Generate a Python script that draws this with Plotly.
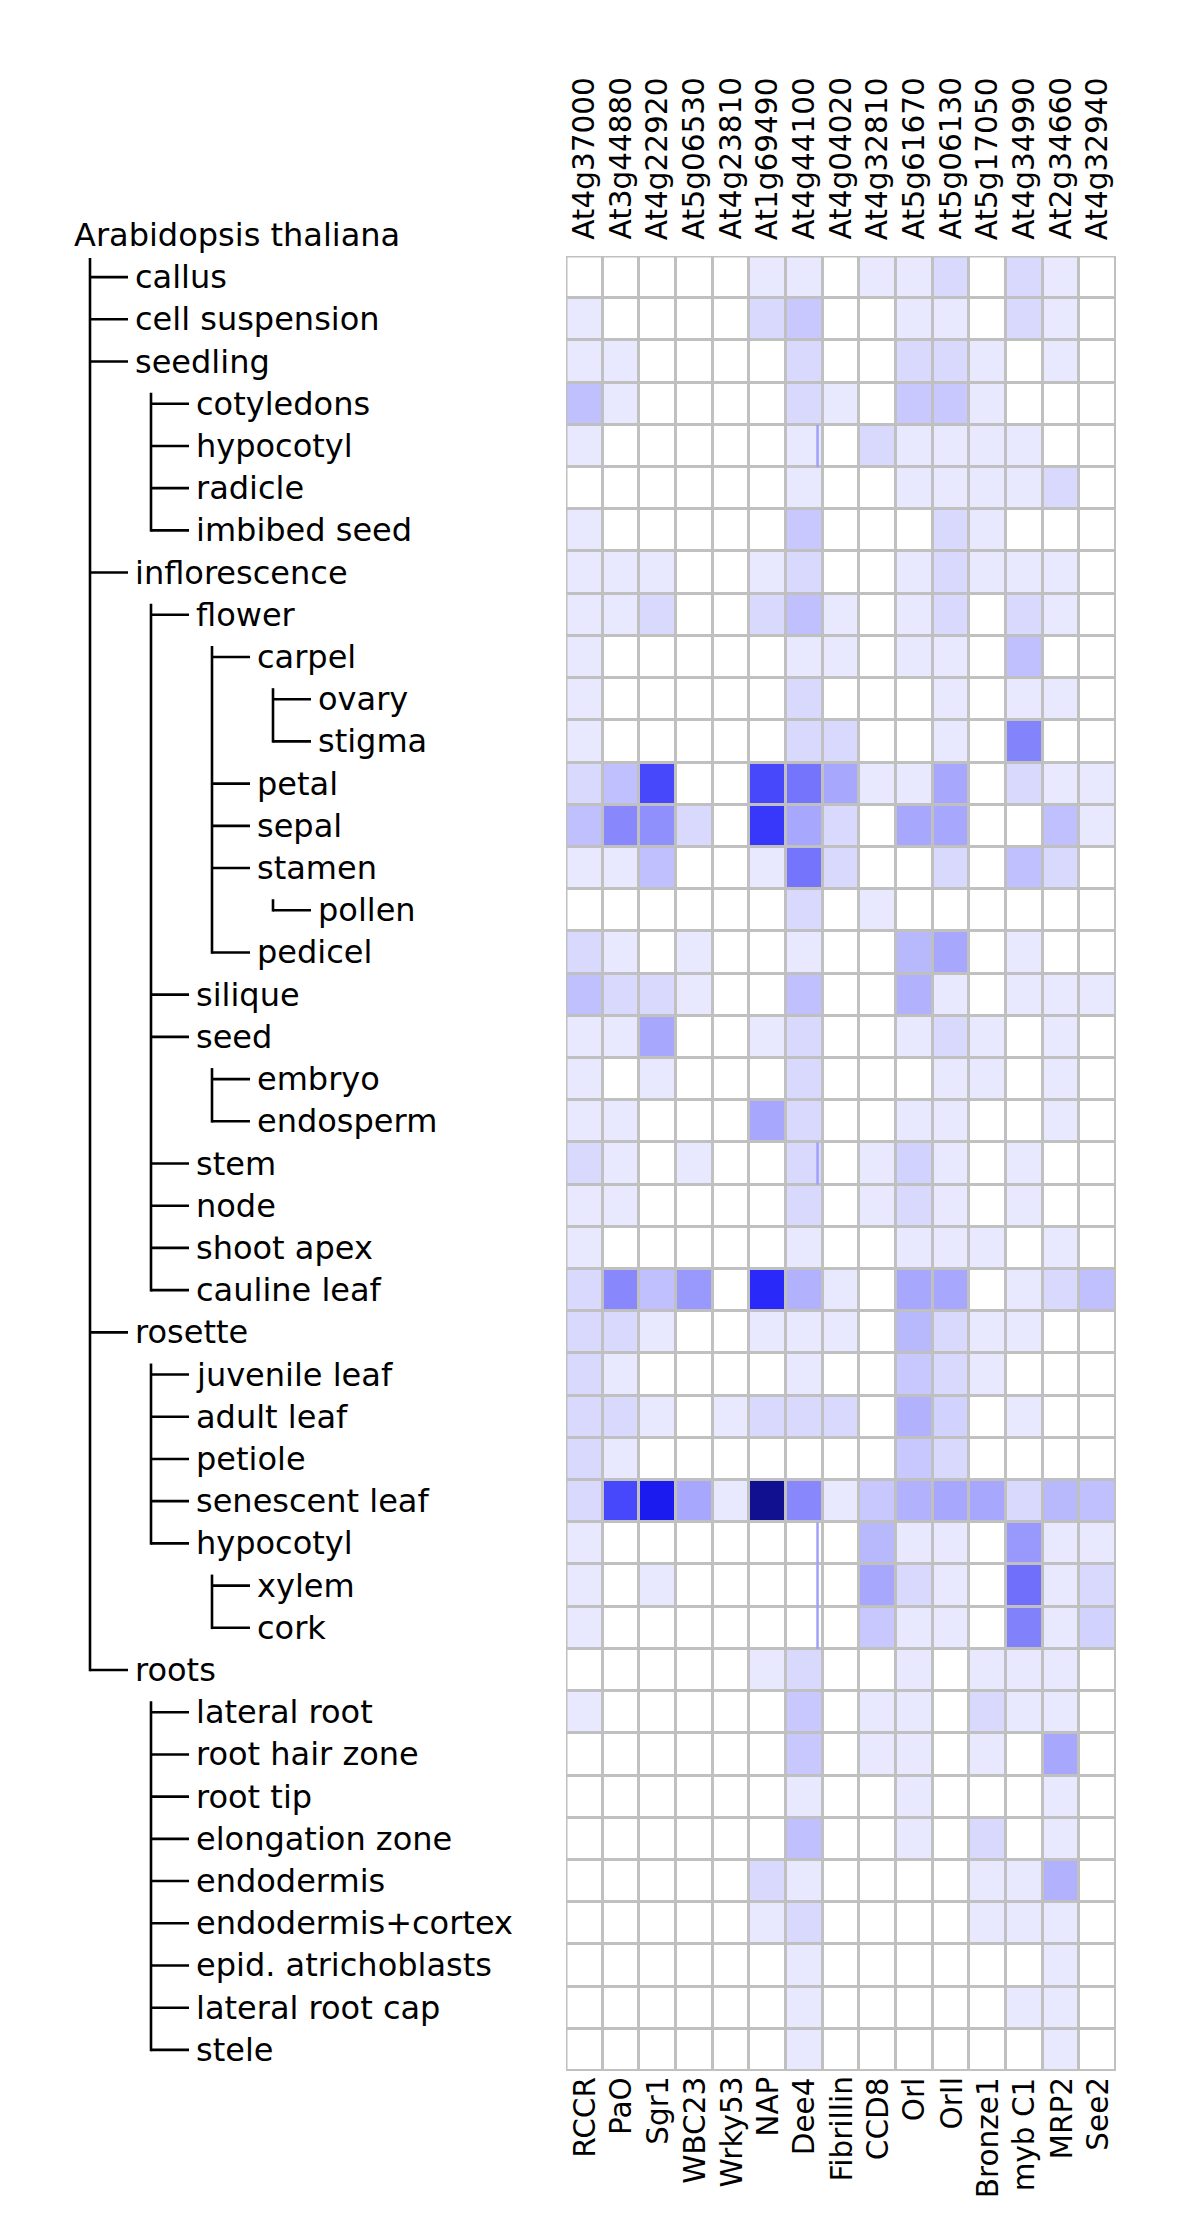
import plotly.graph_objects as go

# ---------------- data ----------------
genes_top = ["At4g37000", "At3g44880", "At4g22920", "At5g06530", "At4g23810",
             "At1g69490", "At4g44100", "At4g04020", "At4g32810", "At5g61670",
             "At5g06130", "At5g17050", "At4g34990", "At2g34660", "At4g32940"]
genes_bottom = ["RCCR", "PaO", "Sgr1", "WBC23", "Wrky53", "NAP", "Dee4", "Fibrillin",
                "CCD8", "Orl", "OrII", "Bronze1", "myb C1", "MRP2", "See2"]

root_label = "Arabidopsis thaliana"
tissues = ["callus", "cell suspension", "seedling", "cotyledons", "hypocotyl", "radicle",
           "imbibed seed", "inflorescence", "flower", "carpel", "ovary", "stigma", "petal",
           "sepal", "stamen", "pollen", "pedicel", "silique", "seed", "embryo", "endosperm",
           "stem", "node", "shoot apex", "cauline leaf", "rosette", "juvenile leaf",
           "adult leaf", "petiole", "senescent leaf", "hypocotyl", "xylem", "cork", "roots",
           "lateral root", "root hair zone", "root tip", "elongation zone", "endodermis",
           "endodermis+cortex", "epid. atrichoblasts", "lateral root cap", "stele"]
depths = [1, 1, 1, 2, 2, 2, 2, 1, 2, 3, 4, 4, 3, 3, 3, 4, 3, 2, 2, 3, 3, 2, 2, 2, 2,
          1, 2, 2, 2, 2, 2, 3, 3, 1, 2, 2, 2, 2, 2, 2, 2, 2, 2]

# relative expression (0 = none, 100 = max), one list per tissue, columns follow genes
expr = [
    [0, 0, 0, 0, 0, 9, 9, 0, 9, 9, 15, 0, 15, 9, 0],        # callus
    [9, 0, 0, 0, 0, 15, 22, 0, 0, 9, 9, 0, 15, 9, 0],       # cell suspension
    [9, 9, 0, 0, 0, 0, 15, 0, 0, 15, 15, 9, 0, 9, 0],       # seedling
    [25, 9, 0, 0, 0, 0, 15, 9, 0, 22, 22, 9, 0, 0, 0],      # cotyledons
    [9, 0, 0, 0, 0, 0, 9, 0, 15, 9, 9, 9, 9, 0, 0],         # hypocotyl
    [0, 0, 0, 0, 0, 0, 9, 0, 0, 9, 9, 9, 9, 15, 0],         # radicle
    [9, 0, 0, 0, 0, 0, 22, 0, 0, 0, 15, 9, 0, 0, 0],        # imbibed seed
    [9, 9, 9, 0, 0, 9, 15, 0, 0, 9, 15, 9, 9, 9, 0],        # inflorescence
    [9, 9, 15, 0, 0, 15, 25, 9, 0, 9, 15, 0, 15, 9, 0],     # flower
    [9, 0, 0, 0, 0, 0, 9, 9, 0, 9, 9, 0, 25, 0, 0],         # carpel
    [9, 0, 0, 0, 0, 0, 15, 0, 0, 0, 9, 0, 9, 9, 0],         # ovary
    [9, 0, 0, 0, 0, 0, 15, 15, 0, 0, 9, 0, 49, 0, 0],       # stigma
    [15, 25, 73, 0, 0, 73, 55, 35, 9, 9, 35, 0, 15, 9, 9],  # petal
    [25, 47, 44, 15, 0, 79, 35, 15, 0, 35, 35, 0, 0, 25, 9],  # sepal
    [9, 9, 25, 0, 0, 9, 55, 15, 0, 0, 15, 0, 25, 15, 0],    # stamen
    [0, 0, 0, 0, 0, 0, 15, 0, 9, 0, 0, 0, 0, 0, 0],         # pollen
    [15, 9, 0, 9, 0, 0, 9, 0, 0, 28, 35, 0, 9, 0, 0],       # pedicel
    [25, 15, 15, 9, 0, 0, 25, 0, 0, 31, 9, 0, 9, 9, 9],     # silique
    [9, 9, 35, 0, 0, 9, 15, 0, 0, 9, 15, 9, 0, 9, 0],       # seed
    [9, 0, 9, 0, 0, 0, 15, 0, 0, 0, 9, 9, 0, 9, 0],         # embryo
    [9, 9, 0, 0, 0, 35, 15, 0, 0, 9, 9, 0, 0, 9, 0],        # endosperm
    [15, 9, 0, 9, 0, 0, 15, 0, 9, 18, 9, 0, 9, 0, 0],       # stem
    [9, 9, 0, 0, 0, 0, 15, 0, 9, 15, 9, 0, 9, 0, 0],        # node
    [9, 0, 0, 0, 0, 0, 9, 0, 0, 9, 9, 9, 0, 9, 0],          # shoot apex
    [15, 47, 25, 41, 0, 85, 31, 9, 0, 35, 35, 0, 9, 15, 25],  # cauline leaf
    [15, 15, 9, 0, 0, 9, 9, 9, 0, 28, 15, 9, 9, 0, 0],      # rosette
    [15, 9, 0, 0, 0, 0, 9, 0, 0, 22, 15, 9, 0, 0, 0],       # juvenile leaf
    [15, 15, 9, 0, 9, 15, 15, 15, 0, 31, 18, 0, 9, 0, 0],   # adult leaf
    [15, 9, 0, 0, 0, 0, 0, 0, 0, 22, 15, 0, 0, 0, 0],       # petiole
    [15, 73, 91, 35, 9, 100, 47, 9, 22, 31, 35, 35, 15, 28, 25],  # senescent leaf
    [9, 0, 0, 0, 0, 0, 0, 0, 28, 9, 9, 0, 41, 9, 9],        # hypocotyl
    [9, 0, 9, 0, 0, 0, 0, 0, 35, 15, 9, 0, 57, 9, 15],      # xylem
    [9, 0, 0, 0, 0, 0, 0, 0, 22, 9, 9, 0, 50, 9, 18],       # cork
    [0, 0, 0, 0, 0, 9, 15, 0, 0, 9, 0, 9, 9, 9, 0],         # roots
    [9, 0, 0, 0, 0, 0, 22, 0, 9, 9, 0, 15, 9, 9, 0],        # lateral root
    [0, 0, 0, 0, 0, 0, 22, 0, 9, 9, 0, 9, 0, 35, 0],        # root hair zone
    [0, 0, 0, 0, 0, 0, 9, 0, 0, 9, 0, 0, 0, 9, 0],          # root tip
    [0, 0, 0, 0, 0, 0, 25, 0, 0, 9, 0, 15, 0, 9, 0],        # elongation zone
    [0, 0, 0, 0, 0, 15, 9, 0, 0, 0, 0, 9, 9, 31, 0],        # endodermis
    [0, 0, 0, 0, 0, 9, 15, 0, 0, 0, 0, 9, 9, 9, 0],         # endodermis+cortex
    [0, 0, 0, 0, 0, 0, 9, 0, 0, 0, 0, 0, 0, 9, 0],          # epid. atrichoblasts
    [0, 0, 0, 0, 0, 0, 9, 0, 0, 0, 0, 0, 9, 9, 0],          # lateral root cap
    [0, 0, 0, 0, 0, 0, 9, 0, 0, 0, 0, 0, 0, 9, 0],          # stele
]

# rows where the Dee4 cell carries a thin extra bar near its right edge
dee4_bar_rows = [4, 21, 30, 31, 32]
dee4_col = genes_bottom.index("Dee4")

# ---------------- layout constants ----------------
W, H = 1200, 2222
GX0, GX1 = 558, 1108      # grid left / right (px)
GY0, GY1 = 248, 2063      # grid top / bottom (px)
GRID = "#c0c0c0"
FONT = "DejaVu Sans"

n_rows, n_cols = len(tissues), len(genes_bottom)
row_h = (GY1 - GY0) / n_rows


def px(x):
    return x / W


def py(y):
    return 1 - y / H


def row_center(i):
    return GY0 + (i + 0.5) * row_h


fig = go.Figure()

fig.add_trace(go.Heatmap(
    z=expr,
    x=list(range(n_cols)),
    y=list(range(n_rows)),
    zmin=0, zmax=100,
    colorscale=[[0, "rgb(255,255,255)"], [0.9, "rgb(28,28,250)"], [1, "rgb(16,16,145)"]],
    showscale=False,
    xgap=3, ygap=3,
    hovertemplate="%{customdata}<extra></extra>",
    customdata=[[f"{t} / {g}: {v}" for g, v in zip(genes_bottom, row)] for t, row in zip(tissues, expr)],
))

shapes = []
annotations = []

# thin bars inside Dee4 cells
for r in dee4_bar_rows:
    shapes.append(dict(type="line", xref="x", yref="y", x0=dee4_col + 0.36, x1=dee4_col + 0.36,
                       y0=r - 0.5, y1=r + 0.5, line=dict(color="rgb(160,160,250)", width=2.5),
                       layer="above"))

# grid outer border
shapes.append(dict(type="rect", xref="x", yref="y", x0=-0.5, x1=n_cols - 0.5,
                   y0=-0.5, y1=n_rows - 0.5, line=dict(color=GRID, width=3), layer="above"))

# column labels
for j, (gt, gb) in enumerate(zip(genes_top, genes_bottom)):
    annotations.append(dict(x=j, y=py(GY0 - 14), xref="x", yref="paper", text=gt, textangle=-90,
                            showarrow=False, xanchor="center", yanchor="bottom",
                            font=dict(family=FONT, size=29.5, color="black")))
    annotations.append(dict(x=j, y=py(GY1 + 4), xref="x", yref="paper", text=gb, textangle=-90,
                            showarrow=False, xanchor="center", yanchor="top",
                            font=dict(family=FONT, size=29.5, color="black")))

# tree
X_LINE0, STEP, HLEN, TXT_OFF = 82, 61, 38, 43
LW = 2.6
annotations.append(dict(x=px(64), y=py(row_center(-1)), xref="paper", yref="paper",
                        text=root_label, showarrow=False, xanchor="left", yanchor="middle",
                        font=dict(family=FONT, size=32, color="black")))

children = {}
for i, d in enumerate(depths):
    parent = -1
    for j in range(i - 1, -1, -1):
        if depths[j] == d - 1:
            parent = j
            break
    children.setdefault(parent, []).append(i)

for parent, kids in children.items():
    d = depths[kids[0]]
    xv = X_LINE0 + STEP * (d - 1)
    start = row_center(kids[0]) - (19 if parent == -1 else 11)
    shapes.append(dict(type="line", xref="paper", yref="paper", x0=px(xv), x1=px(xv),
                       y0=py(start), y1=py(row_center(kids[-1]) + LW / 2),
                       line=dict(color="black", width=LW)))
    for k in kids:
        yc = row_center(k)
        shapes.append(dict(type="line", xref="paper", yref="paper", x0=px(xv), x1=px(xv + HLEN),
                           y0=py(yc), y1=py(yc), line=dict(color="black", width=LW)))

for i, (t, d) in enumerate(zip(tissues, depths)):
    xv = X_LINE0 + STEP * (d - 1)
    annotations.append(dict(x=px(xv + TXT_OFF), y=py(row_center(i)), xref="paper", yref="paper",
                            text=t, showarrow=False, xanchor="left", yanchor="middle",
                            font=dict(family=FONT, size=32, color="black")))

fig.update_layout(
    width=W, height=H,
    margin=dict(l=0, r=0, t=0, b=0),
    paper_bgcolor="white",
    plot_bgcolor=GRID,
    showlegend=False,
    xaxis=dict(domain=[GX0 / W, GX1 / W], range=[-0.5, n_cols - 0.5], visible=False,
               fixedrange=True),
    yaxis=dict(domain=[1 - GY1 / H, 1 - GY0 / H], range=[n_rows - 0.5, -0.5], visible=False,
               fixedrange=True),
    shapes=shapes,
    annotations=annotations,
)

fig.write_html("out.html")
